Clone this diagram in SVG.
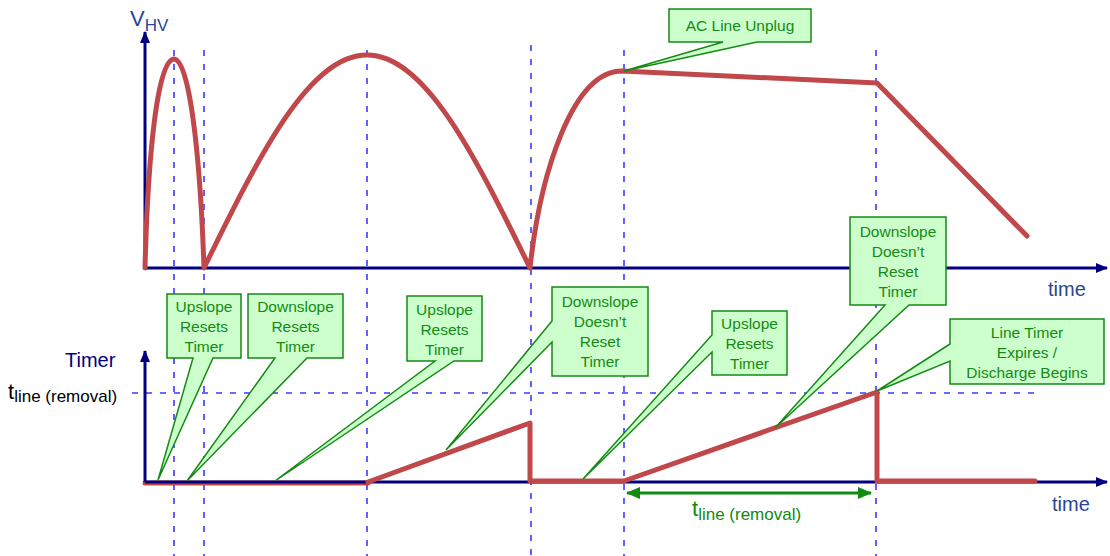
<svg xmlns="http://www.w3.org/2000/svg" width="1110" height="556" viewBox="0 0 1110 556">
<style>
.ax{stroke:#000080;stroke-width:3;fill:none}
.dash{stroke:#3a3aff;stroke-width:1.6;stroke-dasharray:6 8;fill:none}
.sig{stroke:#c0474a;stroke-width:5;fill:none;stroke-linejoin:round;stroke-linecap:round}
.co{fill:#ccffcc;stroke:#158a15;stroke-width:1.5;stroke-linejoin:miter}
.ct{font-family:"Liberation Sans",Arial,sans-serif;font-size:15.5px;fill:#158a15;text-anchor:middle}
.lbl{font-family:"Liberation Sans",Arial,sans-serif;fill:#2b4596}
</style>
<defs>
<marker id="ah" viewBox="0 0 12 10" refX="11" refY="5" markerWidth="12" markerHeight="10" markerUnits="userSpaceOnUse" orient="auto"><path d="M0,0 L12,5 L0,10 Z" fill="#000080"/></marker>
<marker id="gh" viewBox="0 0 14 12" refX="13" refY="6" markerWidth="14" markerHeight="12" markerUnits="userSpaceOnUse" orient="auto-start-reverse"><path d="M0,0 L14,6 L0,12 Z" fill="#108a10"/></marker>
</defs>
<rect width="1110" height="556" fill="#fff"/>
<g id="guides">
<line class="dash" x1="174" y1="50" x2="174" y2="556"/>
<line class="dash" x1="204" y1="50" x2="204" y2="556"/>
<line class="dash" x1="367" y1="50" x2="367" y2="556"/>
<line class="dash" x1="531" y1="45" x2="531" y2="556"/>
<line class="dash" x1="624" y1="50" x2="624" y2="556"/>
<line class="dash" x1="876" y1="50" x2="876" y2="556"/>
<line class="dash" x1="132" y1="393" x2="1040" y2="393"/>
</g>
<g id="timer-base">
<path class="sig" d="M145,483 L368,483"/>
</g>
<g id="axes">
<line class="ax" x1="145" y1="268" x2="145" y2="32" marker-end="url(#ah)"/>
<line class="ax" x1="145" y1="268" x2="1107" y2="268" marker-end="url(#ah)"/>
<line class="ax" x1="145" y1="482" x2="145" y2="351" marker-end="url(#ah)"/>
<line class="ax" x1="145" y1="482" x2="1107" y2="482" marker-end="url(#ah)"/>
</g>
<g id="labels">
<text class="lbl" x="130" y="26" font-size="22">V<tspan font-size="17" dy="5">HV</tspan></text>
<text class="lbl" x="1048" y="296" font-size="20">time</text>
<text class="lbl" x="1052" y="511" font-size="20">time</text>
<text x="65" y="367" font-family="Liberation Sans,Arial,sans-serif" font-size="20" fill="#000080">Timer</text>
<text x="8" y="399" font-family="Liberation Sans,Arial,sans-serif" font-size="22" fill="#000">t<tspan font-size="17" dy="3">line (removal)</tspan></text>
<text x="692" y="516" font-family="Liberation Sans,Arial,sans-serif" font-size="22" fill="#108a10">t<tspan font-size="17" dy="4">line (removal)</tspan></text>
</g>
<g id="signals">
<path class="sig" d="M145,268 C148,150 158,59 174,59 C189,59 200,150 204,268 C261,151 310,55 367,55 C424,55 473,151 530,268 C540,175 572,71 622,71 L877,83 L1027,236"/>
<path class="sig" d="M368,482 L530,423 L530,481 L624,481 L877,392 L877,481 L1035,481"/>
</g>
<g id="span">
<line x1="627" y1="493" x2="871" y2="493" stroke="#108a10" stroke-width="3" marker-start="url(#gh)" marker-end="url(#gh)"/>
</g>
<g id="callout1">
<path class="co" d="M167,294 H241 V358 H213 L158,480 L193,358 H167 Z"/>
<text class="ct" x="204" y="312">Upslope</text><text class="ct" x="204" y="332">Resets</text><text class="ct" x="204" y="352">Timer</text>
</g>
<g id="callout2">
<path class="co" d="M248,294 H343 V358 H307 L187,481 L275,358 H248 Z"/>
<text class="ct" x="295.5" y="312">Downslope</text><text class="ct" x="295.5" y="332">Resets</text><text class="ct" x="295.5" y="352">Timer</text>
</g>
<g id="callout3">
<path class="co" d="M407,296 H482 V361 H454 L275,481 L435,361 H407 Z"/>
<text class="ct" x="444.5" y="315">Upslope</text><text class="ct" x="444.5" y="335">Resets</text><text class="ct" x="444.5" y="355">Timer</text>
</g>
<g id="callout4">
<path class="co" d="M552,287 H648 V376 H552 V342 L446,450 L552,321 Z"/>
<text class="ct" x="600" y="307">Downslope</text><text class="ct" x="600" y="327">Doesn’t</text><text class="ct" x="600" y="347">Reset</text><text class="ct" x="600" y="367">Timer</text>
</g>
<g id="callout5">
<path class="co" d="M712,311 H787 V375 H712 V352 L583,479 L712,335 Z"/>
<text class="ct" x="749.5" y="329">Upslope</text><text class="ct" x="749.5" y="349">Resets</text><text class="ct" x="749.5" y="369">Timer</text>
</g>
<g id="callout6">
<path class="co" d="M850,217 H946 V305 H909 L775,428 L885,305 H850 Z"/>
<text class="ct" x="898" y="237">Downslope</text><text class="ct" x="898" y="257">Doesn’t</text><text class="ct" x="898" y="277">Reset</text><text class="ct" x="898" y="297">Timer</text>
</g>
<g id="callout7">
<path class="co" d="M950,319 H1104 V384 H950 V361 L877,391 L950,344 Z"/>
<text class="ct" x="1027" y="338">Line Timer</text><text class="ct" x="1027" y="358">Expires /</text><text class="ct" x="1027" y="378">Discharge Begins</text>
</g>
<g id="callout8">
<path class="co" d="M669,9 H811 V42 H757 L624,71 L723,42 H669 Z"/>
<text class="ct" x="740" y="31">AC Line Unplug</text>
</g>
</svg>
